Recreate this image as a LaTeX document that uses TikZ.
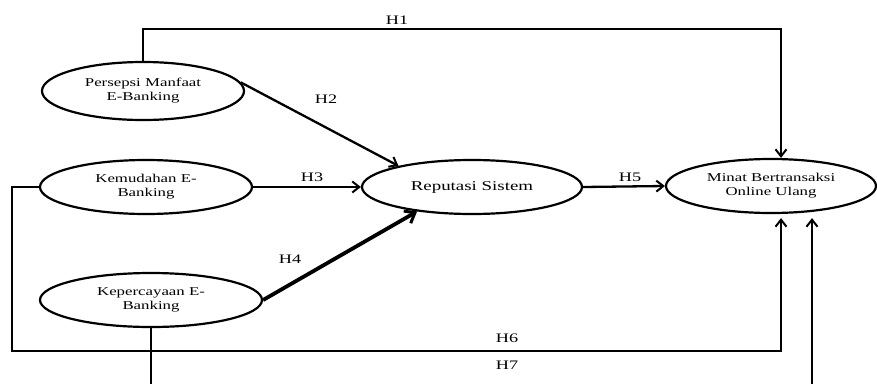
\documentclass[tikz,border=0pt]{standalone}
\usepackage{fontspec}
\setmainfont{Liberation Serif}[FakeStretch=1.4]
\usetikzlibrary{arrows.meta,shapes.geometric}

\tikzset{
  construct/.style={draw, ellipse, line width=2.2pt, inner sep=0pt, align=center,
    font=\fontsize{12}{14}\selectfont},
  link/.style={line width=2.3pt, -{Straight Barb[length=7pt,width=11pt,line width=2pt]}},
  plain/.style={line width=2.3pt},
  hyp/.style={font=\fontsize{13}{15}\selectfont}
}

\begin{document}
\begin{tikzpicture}[x=1pt,y=-1pt]
\useasboundingbox (0,0) rectangle (877,383);

% latent constructs
\node[construct, minimum width=202pt, minimum height=58pt] (pm) at (143,91)
  {Persepsi Manfaat\\E-Banking};
\node[construct, minimum width=212pt, minimum height=54pt] (ke) at (146,187)
  {Kemudahan E-\\Banking};
\node[construct, minimum width=222pt, minimum height=54pt] (kp) at (151,300)
  {Kepercayaan E-\\Banking};
\node[construct, minimum width=220pt, minimum height=54pt,
      font=\fontsize{13.5}{15}\selectfont] (rs) at (472,187) {Reputasi Sistem};
\node[construct, minimum width=210pt, minimum height=54pt] (mo) at (771,186)
  {Minat Bertransaksi\\Online Ulang};

% routing points of the elbow paths
\coordinate (h1a) at (143,29);
\coordinate (h1b) at (781,29);
\coordinate (h6a) at (12,351);
\coordinate (h6b) at (781,351);
\coordinate (h7a) at (145,386);
\coordinate (h7b) at (812,386);

% H1: direct path from perceived usefulness to intention
\draw[link] (pm.north) -- (h1a) -- (h1b) -- (h1b |- mo.north);
% H2, H3, H4: paths into system reputation
\draw[link] (pm.5) -- (rs.164);
\draw[link] (ke.east) -- (rs.west);
\draw[line width=3.8pt, -{Straight Barb[length=9pt,width=14pt,line width=3pt]}]
  (kp.east) -- (rs.204);
% H5
\draw[link] (rs.east) -- (mo.west);
% H6: from ease of use, around the left and along the bottom
\draw[link, shorten >=4pt] (ke.west) -| (h6a) -- (h6b) -- (h6b |- mo.south);
% H7: from trust, below the frame
\draw[plain] (kp.south) -- (kp.south |- h7a);
\draw[link, shorten >=4pt] (h7b) -- (h7b |- mo.south);

% hypothesis labels
\node[hyp] (l1) at (397,20) {H1};
\node[hyp] (l2) at (326,99) {H2};
\node[hyp] (l3) at (312,177) {H3};
\node[hyp] (l4) at (290,259) {H4};
\node[hyp] (l5) at (630,177) {H5};
\node[hyp] (l6) at (507,338) {H6};
\node[hyp] (l7) at (507,365) {H7};
\end{tikzpicture}
\end{document}
